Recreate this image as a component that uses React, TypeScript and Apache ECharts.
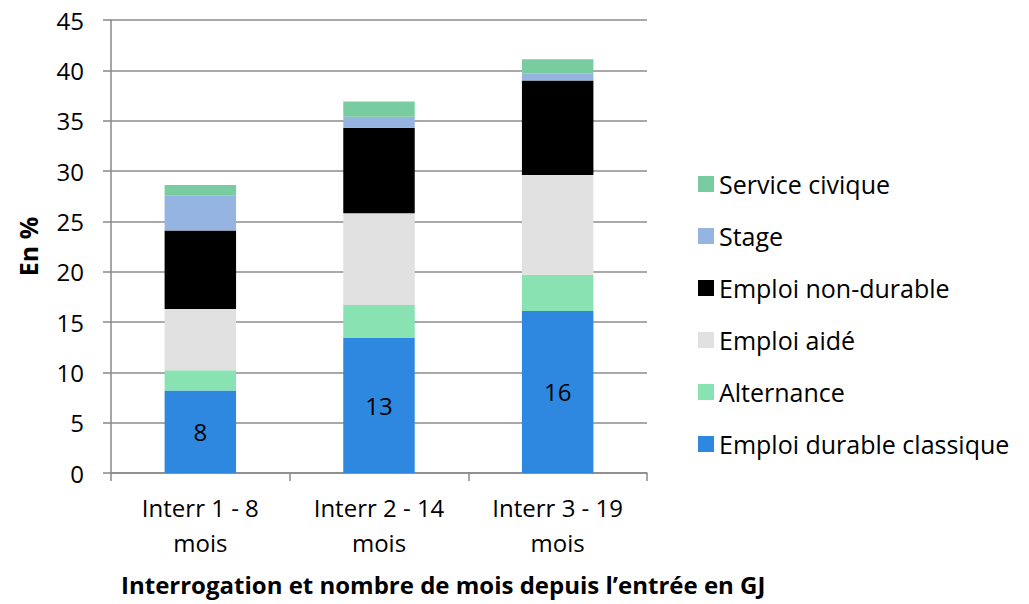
import React, { useEffect, useRef } from "react";
import * as echarts from "echarts";

const categories = ["Interr 1 - 8\nmois", "Interr 2 - 14\nmois", "Interr 3 - 19\nmois"];
const emploiDurable = [8.2, 13.4, 16.1];
const alternance = [2.0, 3.3, 3.6];
const emploiAide = [6.1, 9.1, 9.9];
const emploiNonDurable = [7.8, 8.5, 9.4];
const stage = [3.5, 1.1, 0.7];
const serviceCivique = [1.0, 1.5, 1.4];
const yTicks = { min: 0, max: 45, interval: 5 };

const FONT = "'Open Sans', sans-serif";

export default function App() {
  const ref = useRef<HTMLDivElement>(null);
  useEffect(() => {
    if (!ref.current) return;
    const chart = echarts.init(ref.current, undefined, { renderer: "svg" });
    const mk = (name: string, data: number[], color: string, label = false) => ({
      name,
      type: "bar",
      stack: "total",
      data,
      barWidth: "40%",
      itemStyle: { color },
      label: label
        ? {
            show: true,
            position: "inside",
            color: "#000",
            fontSize: 24,
            fontFamily: FONT,
            formatter: (p: any) => String(Math.round(p.value)),
          }
        : { show: false },
    });
    chart.setOption({
      animation: false,
      textStyle: { fontFamily: FONT },
      grid: { left: 111, right: 382, top: 20, bottom: 131 },
      legend: {
        orient: "vertical",
        left: 693,
        top: 166,
        itemWidth: 16,
        itemHeight: 16,
        itemGap: 26,
        icon: "rect",
        textStyle: { fontSize: 25, color: "#000", fontFamily: FONT, lineHeight: 26 },
        data: [
          "Service civique",
          "Stage",
          "Emploi non-durable",
          "Emploi aidé",
          "Alternance",
          "Emploi durable classique",
        ],
      },
      xAxis: {
        type: "category",
        data: categories,
        axisLine: { lineStyle: { color: "#888", width: 1.5 } },
        axisTick: { show: true, length: 8, lineStyle: { color: "#888", width: 1.5 } },
        axisLabel: { fontSize: 24, color: "#000", lineHeight: 35, margin: 17, fontFamily: FONT },
      },
      yAxis: {
        type: "value",
        min: yTicks.min,
        max: yTicks.max,
        interval: yTicks.interval,
        name: "En %",
        nameLocation: "middle",
        nameGap: 71,
        nameTextStyle: { fontSize: 25, fontWeight: "bold", color: "#000", fontFamily: FONT },
        axisLine: { show: true, lineStyle: { color: "#888", width: 1.5 } },
        axisTick: { show: true, length: 8, inside: false, lineStyle: { color: "#888", width: 1.5 } },
        axisLabel: { fontSize: 24, color: "#000", margin: 27, fontFamily: FONT },
        splitLine: { show: true, lineStyle: { color: "#8c8c8c", width: 1.5 } },
      },
      graphic: [
        {
          type: "text",
          left: 121,
          top: 572,
          style: {
            text: "Interrogation et nombre de mois depuis l\u2019entrée en GJ",
            fontSize: 24,
            fontWeight: "bold",
            fill: "#000",
            fontFamily: FONT,
          },
        },
      ],
      series: [
        mk("Emploi durable classique", emploiDurable, "#2E88E0", true),
        mk("Alternance", alternance, "#88E2B2"),
        mk("Emploi aidé", emploiAide, "#E1E1E1"),
        mk("Emploi non-durable", emploiNonDurable, "#000000"),
        mk("Stage", stage, "#96B4E2"),
        mk("Service civique", serviceCivique, "#79CC9F"),
      ],
    });
    return () => chart.dispose();
  }, []);
  return <div ref={ref} style={{ width: 1029, height: 604, position: "absolute", left: 0, top: 0 }} />;
}
